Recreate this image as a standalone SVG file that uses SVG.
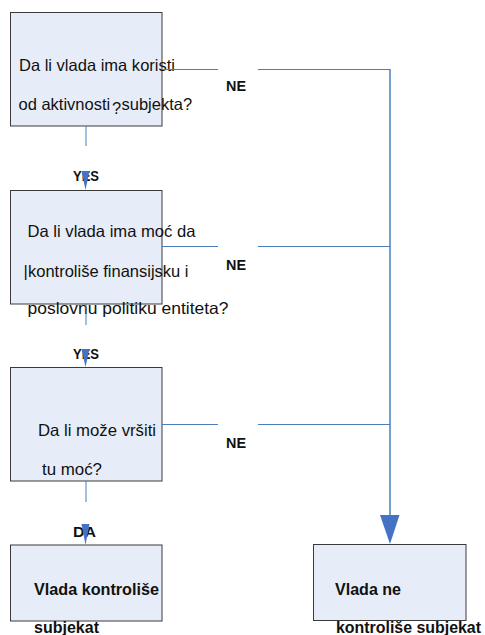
<svg xmlns="http://www.w3.org/2000/svg" width="485" height="635" viewBox="0 0 485 635">
  <style>
    .box { fill: #e7edf8; stroke: #3a3a3a; stroke-width: 1; }
    .txt { font-family: "Liberation Sans", Arial, sans-serif; font-size: 16.5px; fill: #111; }
    .bold { font-family: "Liberation Sans", Arial, sans-serif; font-size: 16px; font-weight: bold; fill: #111; }
    .lbl { font-family: "Liberation Sans", Arial, sans-serif; font-size: 14px; font-weight: bold; fill: #111; }
    .line { stroke: #4a7ebb; stroke-width: 1; fill: none; }
    .trunk { stroke: #4a7ebb; stroke-width: 1.5; fill: none; }
    .head { fill: #4472c4; }
  </style>

  <!-- decision 1 -->
  <g id="q1">
    <rect class="box" x="10.5" y="12.5" width="151.5" height="113.5"/>
    <text class="txt" x="19" y="71" textLength="156" lengthAdjust="spacingAndGlyphs">Da li vlada ima koristi</text>
    <text class="txt" x="18.5" y="110">od aktivnosti<tspan x="112" dy="4">?</tspan><tspan x="121.5" dy="-4">subjekta?</tspan></text>
  </g>

  <!-- decision 2 -->
  <g id="q2">
    <rect class="box" x="10.5" y="190.5" width="151.5" height="113.5"/>
    <text class="txt" x="27.5" y="237" textLength="168" lengthAdjust="spacingAndGlyphs">Da li vlada ima moć da</text>
    <text class="txt" x="23.5" y="277">|<tspan x="28">kontroliše finansijsku i</tspan></text>
    <text class="txt" x="27.5" y="314" textLength="201" lengthAdjust="spacingAndGlyphs">poslovnu politiku entiteta?</text>
  </g>

  <!-- decision 3 -->
  <g id="q3">
    <rect class="box" x="10.5" y="367.5" width="151.5" height="113.5"/>
    <text class="txt" x="38" y="436" textLength="118" lengthAdjust="spacingAndGlyphs">Da li može vršiti</text>
    <text class="txt" x="42" y="475" textLength="60" lengthAdjust="spacingAndGlyphs">tu moć?</text>
  </g>

  <!-- outcome: controls -->
  <g id="yes-result">
    <rect class="box" x="10.5" y="545" width="151.5" height="76"/>
    <text class="bold" x="34" y="595" textLength="125" lengthAdjust="spacingAndGlyphs">Vlada kontroliše</text>
    <text class="bold" x="34" y="633" textLength="65" lengthAdjust="spacingAndGlyphs">subjekat</text>
  </g>

  <!-- outcome: does not control -->
  <g id="no-result">
    <rect class="box" x="313.5" y="544.5" width="152.5" height="76"/>
    <text class="bold" x="335" y="595" textLength="66" lengthAdjust="spacingAndGlyphs">Vlada ne</text>
    <text class="bold" x="336" y="633" textLength="145" lengthAdjust="spacingAndGlyphs">kontroliše subjekat</text>
  </g>

  <!-- connectors -->
  <g id="connectors">
    <text class="lbl" x="73" y="181" textLength="26" lengthAdjust="spacingAndGlyphs">YES</text>
    <text class="lbl" x="73" y="359" textLength="26" lengthAdjust="spacingAndGlyphs">YES</text>
    <text class="lbl" x="73" y="537" textLength="23" lengthAdjust="spacingAndGlyphs">DA</text>
    <text class="lbl" x="226" y="91" textLength="20" lengthAdjust="spacingAndGlyphs">NE</text>
    <text class="lbl" x="226" y="270" textLength="20" lengthAdjust="spacingAndGlyphs">NE</text>
    <text class="lbl" x="226" y="448" textLength="20" lengthAdjust="spacingAndGlyphs">NE</text>

    <!-- yes path, down the left column -->
    <line class="line" x1="86" y1="126" x2="86" y2="146"/>
    <polygon class="head" points="81.5,171 89.5,171 85.5,190"/>
    <line class="line" x1="86" y1="304" x2="86" y2="325"/>
    <polygon class="head" points="81.5,349 89.5,349 85.5,367"/>
    <line class="line" x1="86" y1="481" x2="86" y2="502"/>
    <polygon class="head" points="81.5,524 89.5,524 85.5,545"/>

    <!-- no branches, joined into the right trunk -->
    <line class="line" x1="162" y1="69.5" x2="218" y2="69.5"/>
    <line class="line" x1="258" y1="69.5" x2="390" y2="69.5"/>
    <line class="line" x1="162" y1="246.5" x2="218" y2="246.5"/>
    <line class="line" x1="258" y1="246.5" x2="390" y2="246.5"/>
    <line class="line" x1="162" y1="424.5" x2="218" y2="424.5"/>
    <line class="line" x1="258" y1="424.5" x2="390" y2="424.5"/>
    <line class="trunk" x1="390" y1="69" x2="390" y2="516"/>
    <polygon class="head" points="380,515 399.5,515 390,544"/>
  </g>
</svg>
